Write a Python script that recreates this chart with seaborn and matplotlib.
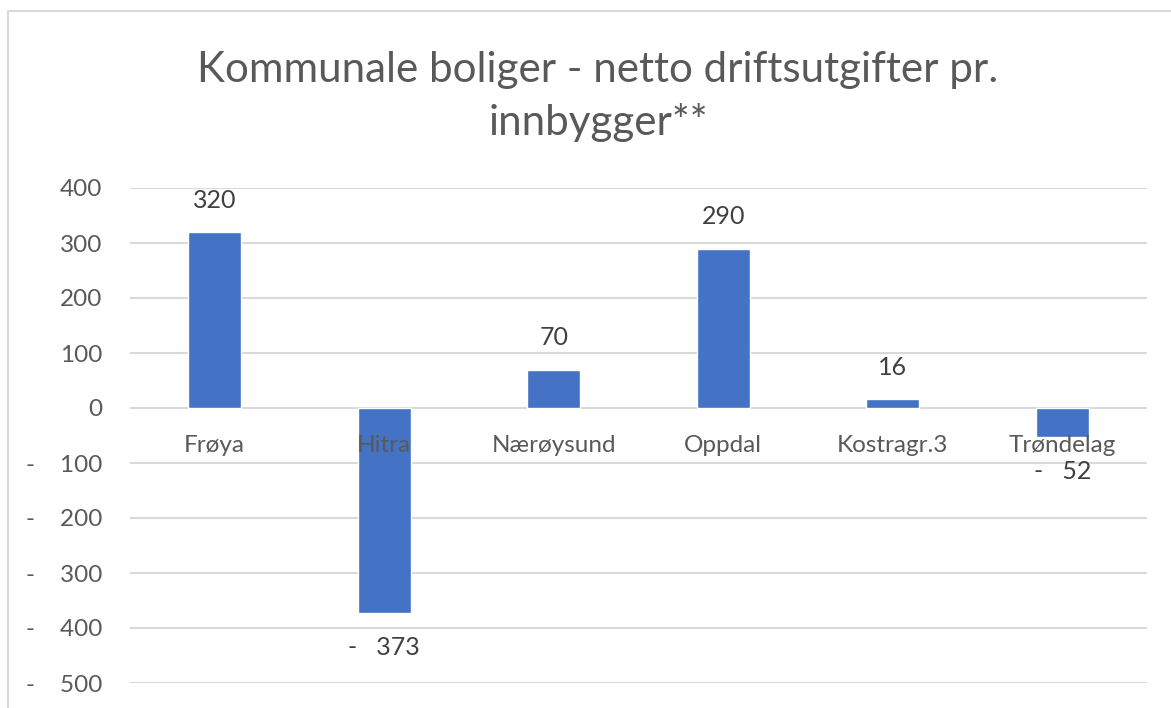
import matplotlib
matplotlib.use("Agg")
import matplotlib.pyplot as plt
from matplotlib.ticker import FuncFormatter
import seaborn as sns

# Chart data
categories = ["Frøya", "Hitra", "Nærøysund", "Oppdal", "Kostragr.3", "Trøndelag"]
values = [320, -373, 70, 290, 16, -52]
yticks = [400, 300, 200, 100, 0, -100, -200, -300, -400, -500]

BAR_COLOR = "#4472C4"
TEXT_GRAY = "#595959"
GRID_GRAY = "#d9d9d9"


def fmt_num(v, gap="    "):
    v = int(round(v))
    if v < 0:
        return "-" + gap + str(abs(v))
    return str(v)


def main():
    sns.set_theme(style="white")
    plt.rcParams["font.family"] = ["Lato", "DejaVu Sans"]

    fig = plt.figure(figsize=(11.71, 7.08), dpi=100)
    ax = fig.add_axes([130 / 1171, 1 - 683 / 708, (1147 - 130) / 1171, (683 - 188) / 708])

    sns.barplot(x=categories, y=values, color=BAR_COLOR, width=0.31, saturation=1, ax=ax)

    ax.set_ylim(-500, 400)
    ax.set_xlim(-0.5, len(categories) - 0.5)
    ax.set_yticks(yticks)
    ax.yaxis.set_major_formatter(FuncFormatter(lambda v, p: fmt_num(v)))
    ax.tick_params(axis="y", length=0, pad=20, labelsize=17.5, labelcolor=TEXT_GRAY)
    ax.set_xticks([])
    ax.set_xlabel("")
    ax.set_ylabel("")
    ax.grid(axis="y", color=GRID_GRAY, linewidth=1.5)
    ax.set_axisbelow(True)
    for s in ax.spines.values():
        s.set_visible(False)

    # category labels sit just below the zero line, like Excel
    for i, cat in enumerate(categories):
        ax.annotate(cat, (i, 0), xytext=(0, -27), textcoords="offset points",
                    ha="center", va="center", fontsize=17.5, color=TEXT_GRAY)

    # data labels
    for i, v in enumerate(values):
        off = 23 if v >= 0 else -25
        ax.annotate(fmt_num(v, "   "), (i, v), xytext=(0, off), textcoords="offset points",
                    ha="center", va="center", fontsize=18, color="#404040")

    fig.text(598 / 1171, 1 - 70 / 708, "Kommunale boliger - netto driftsutgifter pr.",
             ha="center", va="center", fontsize=30.3, color=TEXT_GRAY)
    fig.text(598 / 1171, 1 - 122 / 708, "innbygger**",
             ha="center", va="center", fontsize=30.3, color=TEXT_GRAY)

    # chart area border (partly cropped in the original)
    fig.add_artist(plt.Rectangle((8 / 1171, -0.1), 1.2, 1 - 11 / 708 + 0.1,
                                 transform=fig.transFigure, fill=False,
                                 edgecolor=GRID_GRAY, linewidth=1.5))

    fig.savefig("out.png", dpi=100)
    plt.close(fig)


if __name__ == "__main__":
    main()
